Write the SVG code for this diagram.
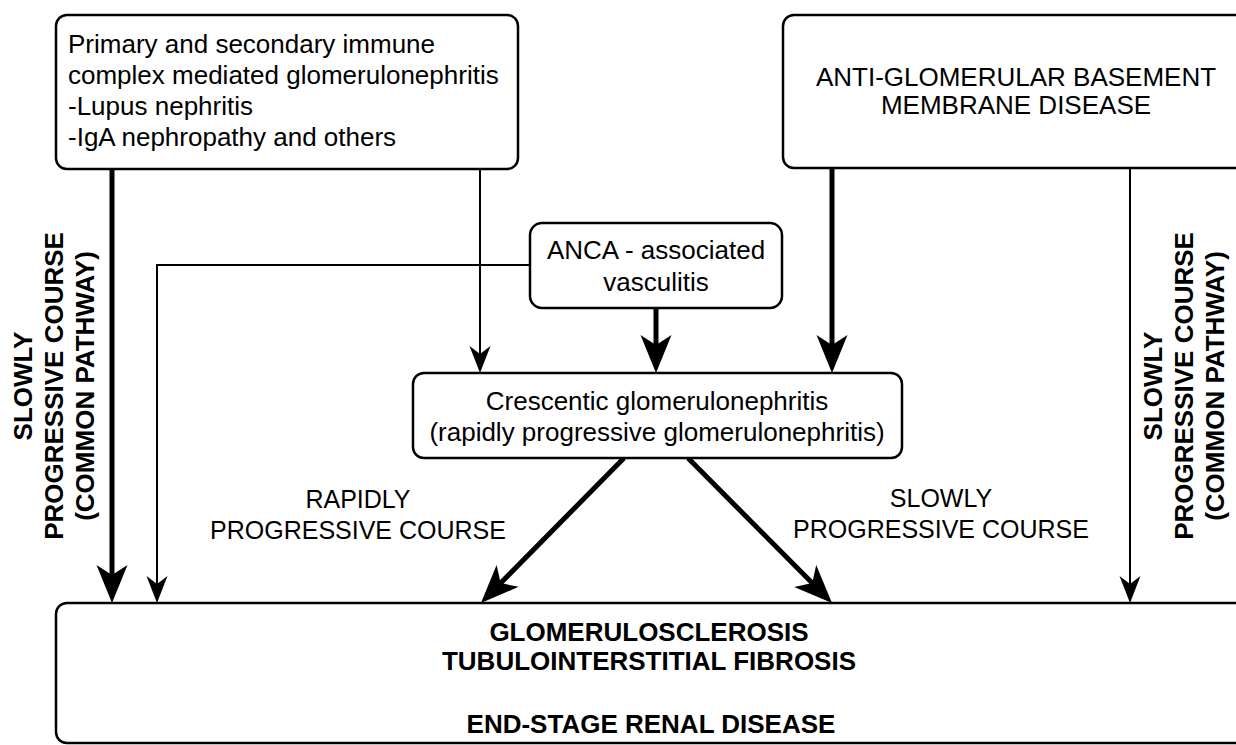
<svg xmlns="http://www.w3.org/2000/svg" width="1236" height="745" viewBox="0 0 1236 745">
<style>
.box{fill:#fff;stroke:#000;stroke-width:2.5}
.t{font-family:"Liberation Sans",Arial,sans-serif;font-size:26px;fill:#000}
.c{text-anchor:middle}
.b{font-weight:bold}
.thick{fill:none;stroke:#000;stroke-width:5}
.thin{fill:none;stroke:#000;stroke-width:2}
</style>
<defs>
<marker id="ahThick" markerUnits="userSpaceOnUse" markerWidth="42" markerHeight="34" viewBox="-40 -17 42 34" refX="-20" refY="0" orient="auto">
<path d="M0,0 L-38,-15.5 L-28,0 L-38,15.5 Z" fill="#000"/>
</marker>
<marker id="ahThin" markerUnits="userSpaceOnUse" markerWidth="30" markerHeight="24" viewBox="-29 -12 30 24" refX="-12" refY="0" orient="auto">
<path d="M0,0 L-27,-10.5 L-19,0 L-27,10.5 Z" fill="#000"/>
</marker>
</defs>
<g id="connectors">
<path class="thick" d="M112,169 V583" marker-end="url(#ahThick)"/>
<path class="thin" d="M530,265 H157 V591" marker-end="url(#ahThin)"/>
<path class="thin" d="M480,169 V361" marker-end="url(#ahThin)"/>
<path class="thick" d="M656,308 V353" marker-end="url(#ahThick)"/>
<path class="thick" d="M832,168 V353" marker-end="url(#ahThick)"/>
<path class="thin" d="M1130,168 V591" marker-end="url(#ahThin)"/>
<path class="thick" d="M624,458 L495,588.8" marker-end="url(#ahThick)"/>
<path class="thick" d="M688,458 L817.9,588.8" marker-end="url(#ahThick)"/>
</g>
<g id="node-immune">
<rect class="box" x="56" y="15" width="462" height="154" rx="11"/>
<text class="t" x="68" y="53">Primary and secondary immune</text>
<text class="t" x="68" y="84">complex mediated glomerulonephritis</text>
<text class="t" x="68" y="115">-Lupus nephritis</text>
<text class="t" x="68" y="146">-IgA nephropathy and others</text>
</g>
<g id="node-antigbm">
<rect class="box" x="783" y="15" width="470" height="153" rx="11"/>
<text class="t c" x="1016" y="86">ANTI-GLOMERULAR BASEMENT</text>
<text class="t c" x="1016" y="114">MEMBRANE DISEASE</text>
</g>
<g id="node-anca">
<rect class="box" x="530" y="223" width="252" height="85" rx="12"/>
<text class="t c" x="656" y="259">ANCA - associated</text>
<text class="t c" x="656" y="291">vasculitis</text>
</g>
<g id="node-crescentic">
<rect class="box" x="413" y="373" width="489" height="85" rx="11"/>
<text class="t c" x="657" y="410">Crescentic glomerulonephritis</text>
<text class="t c" x="657" y="441">(rapidly progressive glomerulonephritis)</text>
</g>
<g id="node-esrd">
<rect class="box" x="56" y="603" width="1192" height="140" rx="11"/>
<text class="t c b" x="649" y="641">GLOMERULOSCLEROSIS</text>
<text class="t c b" x="649" y="670">TUBULOINTERSTITIAL FIBROSIS</text>
<text class="t c b" x="651" y="733">END-STAGE RENAL DISEASE</text>
</g>
<g id="labels">
<g transform="translate(0,386) rotate(-90)">
<text class="t c b" x="0" y="32">SLOWLY</text>
<text class="t c b" x="0" y="63">PROGRESSIVE COURSE</text>
<text class="t c b" x="0" y="94">(COMMON PATHWAY)</text>
</g>
<g transform="translate(1130,386) rotate(-90)">
<text class="t c b" x="0" y="32">SLOWLY</text>
<text class="t c b" x="0" y="63">PROGRESSIVE COURSE</text>
<text class="t c b" x="0" y="94">(COMMON PATHWAY)</text>
</g>
<text class="t c" x="358" y="508" style="font-size:25px">RAPIDLY</text>
<text class="t c" x="358" y="539" style="font-size:25px">PROGRESSIVE COURSE</text>
<text class="t c" x="941" y="507" style="font-size:25px">SLOWLY</text>
<text class="t c" x="941" y="538" style="font-size:25px">PROGRESSIVE COURSE</text>
</g>
</svg>
